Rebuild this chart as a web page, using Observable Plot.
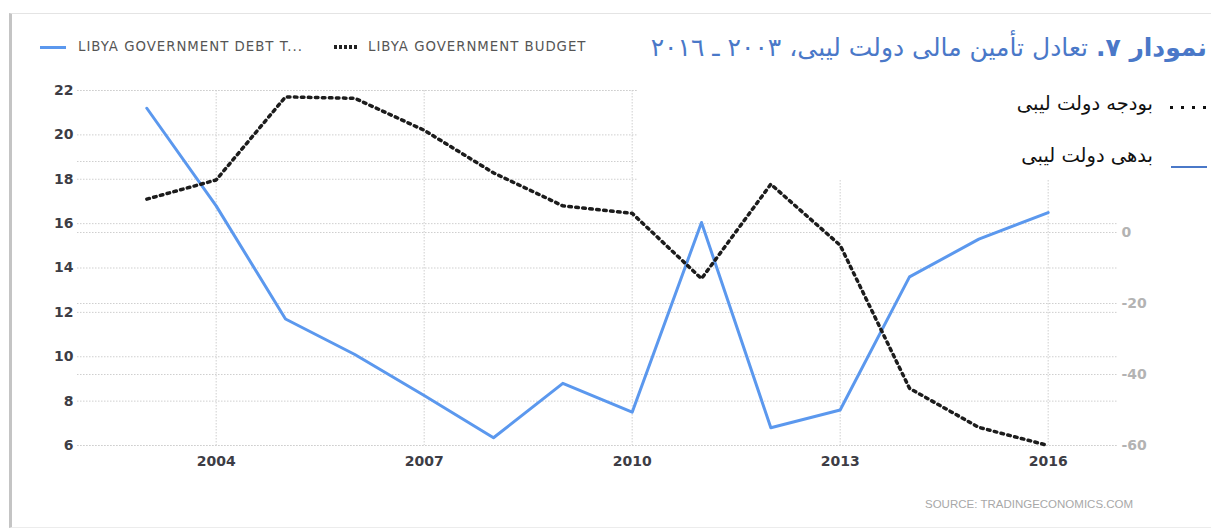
<!DOCTYPE html>
<html>
<head>
<meta charset="utf-8">
<script src="https://cdn.jsdelivr.net/npm/d3@7"></script>
<script src="https://cdn.jsdelivr.net/npm/@observablehq/plot@0.6"></script>
<style>
  html, body { margin: 0; padding: 0; background: #fff; }
  #wrap { position: relative; width: 1211px; height: 530px; overflow: hidden; background: #fff; }
  #frame { position: absolute; left: 9px; top: 13px; width: 1205px; height: 513px;
           border-left: 3px solid #c4c4c4; border-top: 1px solid #e4e4e4; border-bottom: 1px solid #ececec; }
  #chart { position: absolute; left: 0; top: 0; }
  .leg { position: absolute; top: 39px; font-family: "DejaVu Sans", Verdana, sans-serif; font-size: 13.3px; color: #555; white-space: nowrap; letter-spacing: 1px; }
  .sw-line { position: absolute; top: 46px; height: 3px; background: #5b98ee; }
  .sw-dot { position: absolute; top: 45px; height: 4px; width: 25px;
            background: repeating-linear-gradient(90deg, #222 0 3px, transparent 3px 5px); }
  #overlay { position: absolute; left: 638px; top: 14px; width: 573px; height: 166px; background: #fff; }
  #title { position: absolute; right: 4px; top: 19px; direction: rtl; white-space: nowrap;
           font-family: "DejaVu Sans", sans-serif; font-size: 25px; color: #4a78c8; }
  #title b { font-weight: bold; }
  .fa { position: absolute; direction: rtl; white-space: nowrap; font-family: "DejaVu Sans", sans-serif; font-size: 19.5px; color: #111; line-height: 23px; }
  .dots { position: absolute; right: 4px; top: 81px; width: 37px; height: 3px;
          background: repeating-linear-gradient(90deg, #111 0 3px, transparent 3px 11px); }
  #source { position: absolute; left: 925px; top: 498px; font-family: "Liberation Sans Narrow", "Arial Narrow", sans-serif;
            font-size: 11.5px; color: #a8a8a8; white-space: nowrap; }
</style>
</head>
<body>
<div id="wrap">
  <div id="frame"></div>
  <div id="chart"></div>
  <div class="sw-line" style="left:40px;width:26px;"></div>
  <div class="leg" id="leg1" style="left:78px;"></div>
  <div class="sw-dot" style="left:334px;"></div>
  <div class="leg" id="leg2" style="left:368px;"></div>
  <div id="overlay">
    <div id="title"></div>
    <div class="fa" id="fa1" style="right:58px; top:78px;"></div>
    <div class="dots" style="top:92px;"></div>
    <div class="fa" id="fa2" style="right:58px; top:130px;"></div>
    <div style="position:absolute; right:4px; top:152px; width:36px; height:2px; background:#4a78c8;"></div>
  </div>
  <div id="source"></div>
</div>
<script>
// ---- data ----
const years = [2003, 2004, 2005, 2006, 2007, 2008, 2009, 2010, 2011, 2012, 2013, 2014, 2015, 2016];
const debtToGdp = [21.2, 16.8, 11.7, 10.1, 8.25, 6.35, 8.8, 7.5, 16.05, 6.8, 7.6, 13.6, 15.3, 16.5];
const budget = [9.4, 14.8, 38.2, 37.8, 28.8, 16.8, 7.5, 5.4, -13, 13.6, -3.6, -43.9, -54.9, -60];
const xTicks = [2004, 2007, 2010, 2013, 2016];
const leftTicks = [6, 8, 10, 12, 14, 16, 18, 20, 22];
const rightGridTicks = [-60, -40, -20, 0, 20, 40];
const rightLabelTicks = [-60, -40, -20, 0];
const seriesNames = ["LIBYA GOVERNMENT DEBT T...", "LIBYA GOVERNMENT BUDGET"];
const titleBold = "نمودار ٧.";
const titleRest = " تعادل تأمین مالی دولت لیبی، ٢٠٠٣ ـ ٢٠١٦";
const faLegend = ["بودجه دولت لیبی", "بدهی دولت لیبی"];
const sourceText = "SOURCE: TRADINGECONOMICS.COM";

// right axis (budget) mapped onto the left scale: -60 -> 6, 40 -> 22
const rMin = -60, rMax = 40, lMin = 6, lMax = 22;
const toLeft = v => lMin + (v - rMin) * (lMax - lMin) / (rMax - rMin);
const fromLeft = v => rMin + (v - lMin) * (rMax - rMin) / (lMax - lMin);

const data = years.map((y, i) => ({year: y, debt: debtToGdp[i], budget: budget[i]}));

const gridStyle = {stroke: "#cfcfcf", strokeOpacity: 1, strokeDasharray: "1.5,1.5"};

const chart = Plot.plot({
  width: 1211,
  height: 530,
  marginTop: 90,
  marginBottom: 85,
  marginLeft: 77,
  marginRight: 94,
  style: {fontFamily: "DejaVu Sans, sans-serif", background: "transparent"},
  x: {domain: [2002, 2017]},
  y: {domain: [lMin, lMax]},
  marks: [
    Plot.gridX(xTicks, gridStyle),
    Plot.gridY(leftTicks, gridStyle),
    Plot.gridY(rightGridTicks.map(toLeft), gridStyle),
    Plot.axisX(xTicks, {tickSize: 0, tickPadding: 11, tickFormat: d => String(d), fontSize: 14, fontWeight: "bold", fill: "#3d3d45", label: null}),
    Plot.axisY(leftTicks, {anchor: "left", tickSize: 0, tickPadding: 4, fontSize: 14, fontWeight: "bold", fill: "#3d3d45", label: null}),
    Plot.axisY(rightLabelTicks.map(toLeft), {anchor: "right", tickSize: 0, tickPadding: 4, fontSize: 14, fontWeight: "bold", fill: "#b3b3b3", label: null,
      tickFormat: d => String(Math.round(fromLeft(d)))}),
    Plot.line(data, {x: "year", y: "debt", stroke: "#5b98ee", strokeWidth: 3}),
    Plot.line(data, {x: "year", y: d => toLeft(d.budget), stroke: "#1c1c1c", strokeWidth: 3.5, strokeDasharray: "2.6,4.4"})
  ]
});
document.getElementById("chart").appendChild(chart);

document.getElementById("leg1").textContent = seriesNames[0];
document.getElementById("leg2").textContent = seriesNames[1];
const t = document.getElementById("title");
const b = document.createElement("b"); b.textContent = titleBold;
t.appendChild(b); t.appendChild(document.createTextNode(titleRest));
document.getElementById("fa1").textContent = faLegend[0];
document.getElementById("fa2").textContent = faLegend[1];
document.getElementById("source").textContent = sourceText;
</script>
</body>
</html>
